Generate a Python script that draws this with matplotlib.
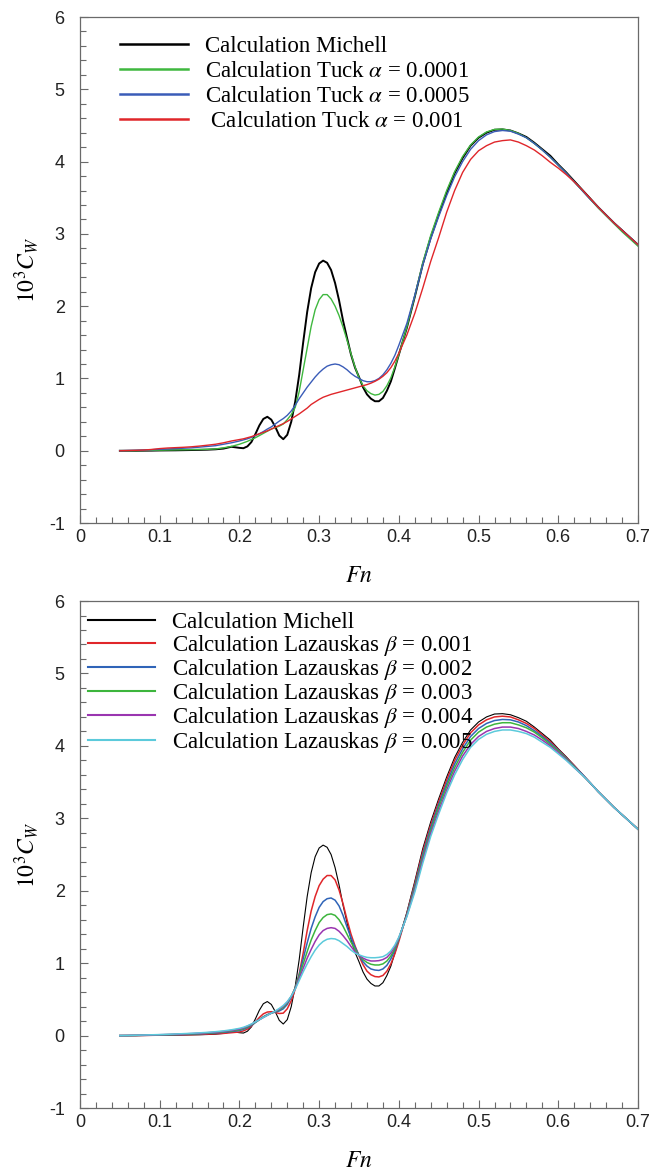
import matplotlib
matplotlib.use("Agg")
import matplotlib.pyplot as plt
from matplotlib.ticker import MultipleLocator

plt.rcParams['mathtext.fontset'] = 'stix'
plt.rcParams['font.family'] = ['Liberation Serif', 'DejaVu Serif']

# ---------------- data ----------------
FN = [0.05, 0.06, 0.07, 0.08, 0.09, 0.10, 0.11, 0.12, 0.13, 0.14, 0.15, 0.16, 0.17, 0.18, 0.19,
      0.200, 0.205, 0.210, 0.215, 0.220, 0.225, 0.230, 0.235, 0.240, 0.245,
      0.250, 0.255, 0.260, 0.265, 0.270, 0.275, 0.280, 0.285, 0.290, 0.295,
      0.300, 0.305, 0.310, 0.315, 0.320, 0.325, 0.330, 0.335, 0.340, 0.345,
      0.350, 0.355, 0.360, 0.365, 0.370, 0.375, 0.380, 0.385, 0.390, 0.395, 0.400,
      0.41, 0.42, 0.43, 0.44, 0.45, 0.46, 0.47, 0.48, 0.49, 0.50,
      0.51, 0.52, 0.53, 0.54, 0.55, 0.56, 0.57, 0.58, 0.59, 0.60,
      0.61, 0.62, 0.63, 0.64, 0.65, 0.66, 0.67, 0.68, 0.69, 0.70]

michell = [0, 0, 0, 0.001, 0.002, 0.004, 0.005, 0.006, 0.008, 0.010, 0.012, 0.015, 0.020, 0.030, 0.055,
           0.04, 0.035, 0.06, 0.12, 0.23, 0.35, 0.44, 0.47, 0.43, 0.33,
           0.21, 0.16, 0.22, 0.40, 0.68, 1.05, 1.50, 1.92, 2.25, 2.47,
           2.59, 2.63, 2.60, 2.50, 2.32, 2.08, 1.80, 1.56, 1.33, 1.15,
           1.02, 0.88, 0.78, 0.72, 0.685, 0.685, 0.73, 0.83, 0.96, 1.14, 1.33,
           1.70, 2.13, 2.58, 2.95, 3.27, 3.57, 3.84, 4.05, 4.22, 4.33,
           4.40, 4.44, 4.445, 4.43, 4.39, 4.34, 4.26, 4.17, 4.08, 3.96,
           3.85, 3.73, 3.61, 3.49, 3.37, 3.26, 3.15, 3.05, 2.95, 2.85]

tuck_a0001 = [0, 0, 0.002, 0.004, 0.006, 0.008, 0.010, 0.012, 0.014, 0.016, 0.018, 0.020, 0.025, 0.040, 0.060,
              0.09, 0.11, 0.13, 0.155, 0.18, 0.21, 0.24, 0.27, 0.30, 0.32,
              0.34, 0.37, 0.43, 0.50, 0.60, 0.82, 1.12, 1.42, 1.72, 1.95,
              2.09, 2.16, 2.16, 2.10, 2.00, 1.87, 1.71, 1.53, 1.34, 1.16,
              1.01, 0.90, 0.83, 0.79, 0.77, 0.78, 0.82, 0.90, 1.01, 1.16, 1.33,
              1.71, 2.14, 2.60, 2.98, 3.30, 3.60, 3.86, 4.07, 4.23, 4.34,
              4.41, 4.445, 4.45, 4.43, 4.39, 4.33, 4.25, 4.16, 4.06, 3.95,
              3.84, 3.72, 3.60, 3.48, 3.36, 3.25, 3.14, 3.03, 2.93, 2.83]

tuck_a0005 = [0, 0.003, 0.006, 0.010, 0.015, 0.020, 0.025, 0.030, 0.035, 0.040, 0.050, 0.060, 0.070, 0.090, 0.110,
              0.135, 0.15, 0.165, 0.185, 0.21, 0.235, 0.265, 0.30, 0.33, 0.37,
              0.41, 0.445, 0.49, 0.55, 0.63, 0.72, 0.80, 0.88, 0.95, 1.02,
              1.08, 1.13, 1.17, 1.19, 1.20, 1.19, 1.16, 1.12, 1.07, 1.03,
              1.00, 0.97, 0.955, 0.955, 0.97, 1.00, 1.05, 1.12, 1.21, 1.32, 1.46,
              1.76, 2.15, 2.57, 2.93, 3.24, 3.53, 3.79, 4.00, 4.17, 4.29,
              4.37, 4.415, 4.43, 4.42, 4.38, 4.33, 4.25, 4.16, 4.06, 3.95,
              3.84, 3.72, 3.60, 3.48, 3.37, 3.26, 3.15, 3.05, 2.95, 2.85]

tuck_a001 = [0, 0.003, 0.006, 0.010, 0.018, 0.030, 0.038, 0.043, 0.048, 0.055, 0.065, 0.077, 0.090, 0.110, 0.135,
             0.155, 0.165, 0.18, 0.195, 0.215, 0.235, 0.255, 0.275, 0.30, 0.325,
             0.35, 0.375, 0.405, 0.44, 0.475, 0.51, 0.55, 0.59, 0.64, 0.675,
             0.71, 0.74, 0.76, 0.78, 0.795, 0.81, 0.825, 0.84, 0.855, 0.87,
             0.885, 0.90, 0.915, 0.935, 0.96, 0.99, 1.03, 1.08, 1.15, 1.24, 1.35,
             1.60, 1.90, 2.25, 2.62, 2.95, 3.30, 3.60, 3.85, 4.03, 4.15,
             4.22, 4.27, 4.29, 4.30, 4.27, 4.22, 4.16, 4.08, 3.99, 3.91,
             3.82, 3.72, 3.61, 3.49, 3.37, 3.26, 3.15, 3.05, 2.95, 2.85]

laz_b001 = [0, 0, 0, 0.002, 0.004, 0.006, 0.008, 0.010, 0.012, 0.014, 0.016, 0.020, 0.025, 0.030, 0.040,
            0.05, 0.065, 0.09, 0.13, 0.19, 0.25, 0.30, 0.325, 0.33, 0.32,
            0.305, 0.31, 0.37, 0.48, 0.64, 0.85, 1.14, 1.45, 1.72, 1.92,
            2.07, 2.16, 2.21, 2.21, 2.15, 2.01, 1.82, 1.60, 1.40, 1.24,
            1.10, 0.98, 0.89, 0.84, 0.815, 0.81, 0.83, 0.89, 0.99, 1.13, 1.30,
            1.68, 2.10, 2.54, 2.91, 3.23, 3.53, 3.80, 4.01, 4.18, 4.29,
            4.36, 4.40, 4.41, 4.40, 4.36, 4.31, 4.24, 4.15, 4.06, 3.95,
            3.84, 3.73, 3.61, 3.49, 3.37, 3.26, 3.15, 3.05, 2.95, 2.85]

laz_b002 = [0, 0, 0.002, 0.004, 0.006, 0.008, 0.010, 0.013, 0.016, 0.020, 0.024, 0.030, 0.037, 0.045, 0.055,
            0.07, 0.085, 0.11, 0.14, 0.18, 0.22, 0.26, 0.29, 0.31, 0.325,
            0.34, 0.37, 0.43, 0.53, 0.66, 0.84, 1.06, 1.28, 1.48, 1.64,
            1.77, 1.85, 1.89, 1.90, 1.87, 1.79, 1.66, 1.50, 1.35, 1.22,
            1.11, 1.02, 0.96, 0.92, 0.905, 0.90, 0.92, 0.97, 1.06, 1.18, 1.33,
            1.67, 2.07, 2.50, 2.87, 3.19, 3.48, 3.75, 3.96, 4.13, 4.24,
            4.31, 4.35, 4.365, 4.36, 4.33, 4.28, 4.21, 4.13, 4.04, 3.94,
            3.83, 3.72, 3.61, 3.49, 3.37, 3.26, 3.15, 3.05, 2.95, 2.85]

laz_b003 = [0, 0.001, 0.003, 0.005, 0.007, 0.010, 0.013, 0.016, 0.020, 0.024, 0.029, 0.035, 0.043, 0.052, 0.064,
            0.08, 0.095, 0.12, 0.15, 0.185, 0.22, 0.255, 0.285, 0.31, 0.33,
            0.355, 0.39, 0.45, 0.54, 0.66, 0.82, 0.99, 1.16, 1.32, 1.45,
            1.56, 1.63, 1.67, 1.68, 1.66, 1.60, 1.51, 1.40, 1.29, 1.19,
            1.11, 1.05, 1.01, 0.985, 0.975, 0.975, 0.99, 1.03, 1.10, 1.20, 1.34,
            1.66, 2.04, 2.46, 2.83, 3.15, 3.44, 3.70, 3.91, 4.08, 4.19,
            4.26, 4.30, 4.32, 4.32, 4.29, 4.25, 4.19, 4.11, 4.02, 3.93,
            3.82, 3.71, 3.60, 3.49, 3.37, 3.26, 3.15, 3.05, 2.95, 2.85]

laz_b004 = [0, 0.002, 0.004, 0.006, 0.009, 0.012, 0.015, 0.019, 0.023, 0.028, 0.033, 0.040, 0.048, 0.058, 0.072,
            0.09, 0.105, 0.13, 0.155, 0.19, 0.22, 0.25, 0.28, 0.31, 0.335,
            0.365, 0.405, 0.46, 0.54, 0.65, 0.79, 0.93, 1.07, 1.19, 1.30,
            1.39, 1.45, 1.48, 1.49, 1.48, 1.44, 1.38, 1.31, 1.23, 1.16,
            1.11, 1.07, 1.045, 1.03, 1.03, 1.035, 1.05, 1.08, 1.14, 1.23, 1.35,
            1.65, 2.01, 2.42, 2.79, 3.10, 3.39, 3.65, 3.86, 4.02, 4.13,
            4.20, 4.24, 4.26, 4.26, 4.24, 4.20, 4.15, 4.08, 4.00, 3.91,
            3.81, 3.70, 3.60, 3.49, 3.37, 3.26, 3.15, 3.05, 2.95, 2.85]

laz_b005 = [0, 0.002, 0.005, 0.008, 0.011, 0.014, 0.018, 0.022, 0.027, 0.032, 0.038, 0.045, 0.054, 0.065, 0.080,
            0.10, 0.115, 0.135, 0.16, 0.19, 0.22, 0.25, 0.28, 0.31, 0.34,
            0.375, 0.415, 0.47, 0.545, 0.64, 0.76, 0.88, 0.99, 1.09, 1.18,
            1.25, 1.30, 1.33, 1.34, 1.335, 1.31, 1.27, 1.23, 1.18, 1.14,
            1.115, 1.095, 1.08, 1.075, 1.075, 1.08, 1.09, 1.12, 1.17, 1.25, 1.36,
            1.64, 1.98, 2.38, 2.75, 3.06, 3.35, 3.60, 3.81, 3.98, 4.09,
            4.16, 4.20, 4.22, 4.22, 4.20, 4.17, 4.12, 4.05, 3.98, 3.89,
            3.80, 3.70, 3.60, 3.49, 3.37, 3.26, 3.15, 3.05, 2.95, 2.85]

X_TICKS = [0, 0.1, 0.2, 0.3, 0.4, 0.5, 0.6, 0.7]
X_TICKLABELS = ['0', '0.1', '0.2', '0.3', '0.4', '0.5', '0.6', '0.7']
Y_TICKS = [-1, 0, 1, 2, 3, 4, 5, 6]
Y_TICKLABELS = ['-1', '0', '1', '2', '3', '4', '5', '6']

top_series = [
    (michell, 'Calculation Michell', '#000000', 1.4),
    (tuck_a0001, r'Calculation Tuck $\alpha$ = 0.0001', '#3fb83f', 1.0),
    (tuck_a0005, r'Calculation Tuck $\alpha$ = 0.0005', '#3a5cb8', 1.0),
    (tuck_a001, r' Calculation Tuck $\alpha$ = 0.001', '#e0262a', 1.0),
]
bottom_series = [
    (michell, 'Calculation Michell', '#000000', 0.8),
    (laz_b001, r'Calculation Lazauskas $\beta$ = 0.001', '#e0262a', 1.1),
    (laz_b002, r'Calculation Lazauskas $\beta$ = 0.002', '#2f64b8', 1.1),
    (laz_b003, r'Calculation Lazauskas $\beta$ = 0.003', '#3db53d', 1.1),
    (laz_b004, r'Calculation Lazauskas $\beta$ = 0.004', '#9a35b0', 1.1),
    (laz_b005, r'Calculation Lazauskas $\beta$ = 0.005', '#5ccadb', 1.1),
]

fig = plt.figure(figsize=(6.52, 11.73), dpi=100)
ax1 = fig.add_axes([0.1227, 0.5541, 0.8558, 0.4314])
ax2 = fig.add_axes([0.1227, 0.0554, 0.8558, 0.4322])

spine_col = '#6a6a6a'


def style(ax):
    ax.set_xlim(0, 0.7)
    ax.set_ylim(-1, 6)
    ax.set_xticks(X_TICKS)
    ax.set_xticklabels(X_TICKLABELS)
    ax.set_yticks(Y_TICKS)
    ax.set_yticklabels(Y_TICKLABELS)
    ax.xaxis.set_minor_locator(MultipleLocator(0.02))
    ax.yaxis.set_minor_locator(MultipleLocator(0.2))
    ax.tick_params(which='both', direction='in', top=False, right=False,
                   color=spine_col, width=0.8)
    ax.tick_params(which='major', length=6)
    ax.tick_params(which='minor', length=4)
    ax.tick_params(axis='x', which='major', pad=4)
    ax.tick_params(axis='y', which='major', pad=11)
    for lab in ax.get_xticklabels() + ax.get_yticklabels():
        lab.set_family(['Liberation Sans', 'DejaVu Sans'])
        lab.set_fontsize(13)
        lab.set_color('#222222')
    for sp in ax.spines.values():
        sp.set_color(spine_col)
        sp.set_linewidth(0.9)
    ax.set_xlabel(r'$\mathit{Fn}$', fontsize=17)
    ax.set_ylabel(r'$10^3C_W$', fontsize=17)
    ax.xaxis.set_label_coords(0.5, -0.085)
    ax.yaxis.set_label_coords(-0.07, 0.5)


for ys, lab, col, lw in top_series:
    ax1.plot(FN, ys, color=col, lw=lw, label=lab)
for ys, lab, col, lw in bottom_series:
    ax2.plot(FN, ys, color=col, lw=lw, label=lab)

style(ax1)
style(ax2)

leg1 = ax1.legend(loc='upper left', bbox_to_anchor=(0.072, 0.962), frameon=False,
                  prop={'family': 'Liberation Serif', 'size': 16.5},
                  handlelength=2.97, handletextpad=0.74, labelspacing=0.17,
                  borderpad=0, borderaxespad=0)
for line in leg1.get_lines():
    line.set_linewidth(1.8)
leg2 = ax2.legend(loc='upper left', bbox_to_anchor=(0.014, 0.978), frameon=False,
                  prop={'family': 'Liberation Serif', 'size': 16.5},
                  handlelength=2.95, handletextpad=0.74, labelspacing=-0.03,
                  borderpad=0, borderaxespad=0)
for line in leg2.get_lines():
    line.set_linewidth(1.5)

fig.savefig('out.png', dpi=100)
